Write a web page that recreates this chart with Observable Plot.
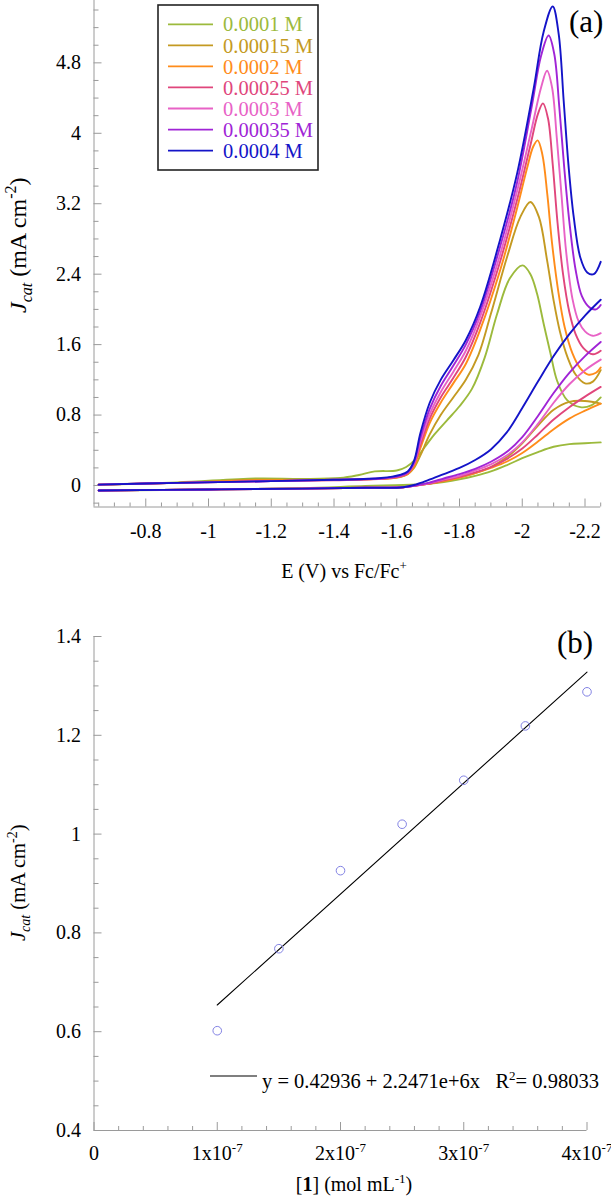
<!DOCTYPE html>
<html><head><meta charset="utf-8">
<script src="https://cdn.jsdelivr.net/npm/d3@7"></script>
<script src="https://cdn.jsdelivr.net/npm/@observablehq/plot@0.6"></script>
<style>
body{margin:0;background:#fff;}
#wrap{width:611px;}
svg{display:block;}
</style></head><body><div id="wrap"></div>
<script>
// ---------- Panel (a) data ----------
const seriesNames = ["0.0001 M","0.00015 M","0.0002 M","0.00025 M","0.0003 M","0.00035 M","0.0004 M"];
const seriesColors = ["#9cba3c","#c49a22","#ff8c1a","#e0467c","#e862c6","#a024d6","#1414c8"];

// forward (peak) branches [E (V), J (mA cm-2)]
const fwd1 = [[-0.65,0.01],[-0.9,0.035],[-1.15,0.08],[-1.3,0.075],[-1.42,0.085],[-1.48,0.12],[-1.53,0.16],[-1.6,0.17],[-1.63,0.21],[-1.66,0.3],[-1.69,0.44],[-1.72,0.58],[-1.76,0.74],[-1.8,0.9],[-1.84,1.1],[-1.88,1.45],[-1.92,1.95],[-1.96,2.35],[-2.001,2.5],[-2.026,2.4],[-2.047,2.18],[-2.068,1.84],[-2.09,1.5],[-2.111,1.19],[-2.143,0.97],[-2.185,0.89],[-2.22,0.91],[-2.25,1.0]];
const fwd15 = [[-0.65,0.01],[-0.9,0.03],[-1.15,0.065],[-1.3,0.065],[-1.5,0.07],[-1.6,0.09],[-1.635,0.13],[-1.655,0.2],[-1.675,0.34],[-1.705,0.58],[-1.74,0.8],[-1.78,1.0],[-1.82,1.2],[-1.86,1.48],[-1.9,1.95],[-1.952,2.6],[-1.994,3.05],[-2.026,3.22],[-2.053,3.05],[-2.079,2.56],[-2.1,2.1],[-2.12,1.75],[-2.145,1.45],[-2.17,1.26],[-2.2,1.16],[-2.225,1.18],[-2.25,1.31]];
const fwd2 = [[-0.65,0.01],[-0.9,0.03],[-1.15,0.06],[-1.3,0.06],[-1.5,0.07],[-1.6,0.09],[-1.635,0.13],[-1.655,0.22],[-1.675,0.42],[-1.705,0.71],[-1.74,0.94],[-1.78,1.16],[-1.82,1.38],[-1.866,1.77],[-1.93,2.45],[-1.98,3.1],[-2.015,3.6],[-2.035,3.85],[-2.049,3.92],[-2.064,3.76],[-2.08,3.3],[-2.095,2.75],[-2.115,2.2],[-2.135,1.8],[-2.16,1.5],[-2.185,1.33],[-2.21,1.26],[-2.235,1.28],[-2.25,1.34]];
const fwd25 = [[-0.65,0.01],[-0.9,0.03],[-1.2,0.05],[-1.4,0.06],[-1.55,0.075],[-1.61,0.1],[-1.635,0.14],[-1.655,0.24],[-1.675,0.46],[-1.705,0.76],[-1.74,1.0],[-1.78,1.22],[-1.82,1.46],[-1.866,1.85],[-1.93,2.55],[-1.984,3.25],[-2.025,3.85],[-2.05,4.22],[-2.066,4.34],[-2.082,4.17],[-2.097,3.65],[-2.112,3.0],[-2.13,2.4],[-2.15,1.97],[-2.17,1.72],[-2.195,1.56],[-2.225,1.49],[-2.25,1.53]];
const fwd3 = [[-0.65,0.01],[-0.9,0.03],[-1.2,0.05],[-1.4,0.065],[-1.55,0.08],[-1.61,0.11],[-1.635,0.15],[-1.655,0.25],[-1.675,0.5],[-1.705,0.81],[-1.74,1.06],[-1.78,1.29],[-1.82,1.53],[-1.866,1.92],[-1.93,2.63],[-1.984,3.35],[-2.03,4.05],[-2.06,4.52],[-2.079,4.71],[-2.095,4.52],[-2.11,3.95],[-2.125,3.3],[-2.14,2.65],[-2.16,2.12],[-2.18,1.86],[-2.2,1.75],[-2.225,1.7],[-2.25,1.73]];
const fwd35 = [[-0.65,0.01],[-0.9,0.03],[-1.2,0.05],[-1.4,0.065],[-1.55,0.08],[-1.61,0.11],[-1.635,0.15],[-1.655,0.26],[-1.675,0.54],[-1.705,0.87],[-1.74,1.13],[-1.78,1.36],[-1.82,1.6],[-1.866,1.98],[-1.93,2.72],[-1.984,3.45],[-2.03,4.3],[-2.06,4.88],[-2.084,5.11],[-2.102,4.9],[-2.118,4.3],[-2.134,3.6],[-2.15,3.0],[-2.17,2.45],[-2.19,2.15],[-2.215,2.02],[-2.235,2.0],[-2.25,2.05]];
const fwd4 = [[-0.65,0.01],[-0.9,0.03],[-1.2,0.05],[-1.4,0.065],[-1.55,0.085],[-1.61,0.12],[-1.635,0.16],[-1.655,0.28],[-1.675,0.59],[-1.705,0.94],[-1.74,1.2],[-1.78,1.42],[-1.82,1.65],[-1.866,2.03],[-1.93,2.8],[-1.984,3.55],[-2.036,4.5],[-2.068,5.15],[-2.097,5.44],[-2.116,5.13],[-2.132,4.37],[-2.148,3.61],[-2.164,3.05],[-2.185,2.59],[-2.207,2.42],[-2.228,2.4],[-2.25,2.54]];

// return branches
const revBase = [[-0.65,-0.057],[-1.0,-0.045],[-1.3,-0.035],[-1.5,-0.025],[-1.62,-0.02]];
const rev1 = [[-0.65,-0.057],[-1.0,-0.045],[-1.3,-0.03],[-1.5,-0.005],[-1.62,0.005],[-1.7,0.02],[-1.75,0.04],[-1.8,0.07],[-1.85,0.11],[-1.9,0.16],[-1.95,0.23],[-2.0,0.31],[-2.05,0.38],[-2.1,0.44],[-2.15,0.47],[-2.2,0.48],[-2.25,0.49]];
const rev15 = [[-1.66,0.0],[-1.7,0.02],[-1.75,0.05],[-1.8,0.09],[-1.85,0.14],[-1.9,0.21],[-1.95,0.32],[-2.0,0.48],[-2.05,0.68],[-2.1,0.86],[-2.15,0.95],[-2.2,0.96],[-2.25,0.93]];
const rev2 = [[-1.66,0.0],[-1.7,0.02],[-1.75,0.05],[-1.8,0.09],[-1.85,0.14],[-1.9,0.2],[-1.95,0.27],[-2.0,0.37],[-2.05,0.5],[-2.1,0.64],[-2.15,0.76],[-2.2,0.85],[-2.25,0.93]];
const rev25 = [[-1.66,0.0],[-1.7,0.02],[-1.75,0.06],[-1.8,0.1],[-1.85,0.15],[-1.9,0.21],[-1.95,0.3],[-2.0,0.42],[-2.05,0.58],[-2.1,0.75],[-2.15,0.89],[-2.2,1.01],[-2.25,1.12]];
const rev3 = [[-1.66,0.0],[-1.7,0.025],[-1.75,0.07],[-1.8,0.11],[-1.85,0.17],[-1.9,0.24],[-1.95,0.34],[-2.0,0.49],[-2.05,0.7],[-2.1,0.94],[-2.15,1.15],[-2.2,1.31],[-2.25,1.43]];
const rev35 = [[-1.66,0.0],[-1.7,0.03],[-1.75,0.08],[-1.8,0.13],[-1.85,0.19],[-1.9,0.27],[-1.95,0.38],[-2.0,0.55],[-2.05,0.79],[-2.1,1.05],[-2.15,1.28],[-2.2,1.47],[-2.25,1.63]];
const rev4 = [[-1.66,0.01],[-1.7,0.06],[-1.75,0.13],[-1.8,0.2],[-1.85,0.29],[-1.9,0.41],[-1.95,0.6],[-2.0,0.88],[-2.05,1.18],[-2.1,1.47],[-2.15,1.72],[-2.2,1.93],[-2.25,2.11]];

const forwards = [fwd1, fwd15, fwd2, fwd25, fwd3, fwd35, fwd4];
const returns = [rev1, revBase.concat(rev15), revBase.concat(rev2), revBase.concat(rev25), revBase.concat(rev3), revBase.concat(rev35), revBase.concat(rev4)];

// axis ticks panel (a)
const xMajorA = [-0.8,-1,-1.2,-1.4,-1.6,-1.8,-2,-2.2];
const xLabelsA = ["-0.8","-1","-1.2","-1.4","-1.6","-1.8","-2","-2.2"];
const yMajorA = [0,0.8,1.6,2.4,3.2,4,4.8];
const yLabelsA = ["0","0.8","1.6","2.4","3.2","4","4.8"];

// ---------- Panel (b) data ----------
const conc = [1e-7,1.5e-7,2e-7,2.5e-7,3e-7,3.5e-7,4e-7];
const jcat = [0.602,0.768,0.926,1.020,1.109,1.219,1.288];
const fitX = [1e-7,4e-7];
const fitY = [0.654,1.328];
const xMajorB = [0,1e-7,2e-7,3e-7,4e-7];
const xLabelsB = ["0","1x10","2x10","3x10","4x10"];
const xExpB = ["","-7","-7","-7","-7"];
const yMajorB = [0.4,0.6,0.8,1,1.2,1.4];
const yLabelsB = ["0.4","0.6","0.8","1","1.2","1.4"];

// ---------- build ----------
const axisColor = "#9a9a9a";
const FONT = "Liberation Serif, Times New Roman, serif";

const rowsA = [];
seriesNames.forEach((n, i) => {
  forwards[i].forEach(([E, J]) => rowsA.push({series: n, key: n + "|f", E, J}));
  returns[i].forEach(([E, J]) => rowsA.push({series: n, key: n + "|r", E, J}));
});

function minorTicks(lo, hi, step, majors) {
  const out = [];
  const n = Math.round((hi - lo) / step);
  for (let k = 0; k <= n; k++) {
    const v = +(lo + k * step).toFixed(12);
    if (!majors.some(m => Math.abs(m - v) < Math.abs(step) / 10)) out.push(v);
  }
  return out;
}

function axisMarks(xMaj, xMin, yMaj, yMin, xDom, yDom, plotW, plotH) {
  return [
    Plot.ruleX([xDom[0]], {stroke: axisColor, strokeWidth: 1}),
    Plot.ruleY([yDom[0]], {stroke: axisColor, strokeWidth: 1}),
    Plot.tickX(xMaj, {x: d => d, stroke: axisColor, insetTop: plotH - 8}),
    Plot.tickX(xMin, {x: d => d, stroke: axisColor, insetTop: plotH - 4}),
    Plot.tickY(yMaj, {y: d => d, stroke: axisColor, insetRight: plotW - 8}),
    Plot.tickY(yMin, {y: d => d, stroke: axisColor, insetRight: plotW - 5})
  ];
}

function txt(sel, x, y, size, anchor) {
  return sel.append("text").attr("x", x).attr("y", y).attr("font-size", size)
    .attr("text-anchor", anchor || "start").attr("fill", "black")
    .style("white-space", "pre");
}

function forceFont(sel) {
  sel.style("font-family", FONT);
  sel.selectAll("text, tspan").style("font-family", FONT);
}

// Panel (a)
const WA = 611, HA = 600, mlA = 93.5, mrA = 10.8, mtA = 0, mbA = 93.5;
const xDomA = [-0.635, -2.25], yDomA = [-0.244, 5.508];
const plotA = Plot.plot({
  width: WA, height: HA, marginLeft: mlA, marginRight: mrA, marginTop: mtA, marginBottom: mbA,
  x: {domain: xDomA, axis: null},
  y: {domain: yDomA, axis: null},
  color: {domain: seriesNames, range: seriesColors},
  style: {background: "white", overflow: "visible"},
  marks: [
    ...axisMarks(xMajorA, minorTicks(-0.65, -2.25, -0.05, xMajorA), yMajorA, minorTicks(-0.2, 5.4, 0.2, yMajorA), xDomA, yDomA, WA - mlA - mrA, HA - mtA - mbA),
    Plot.text(xMajorA, {x: d => d, text: (d, i) => xLabelsA[i], frameAnchor: "bottom", dy: 25, lineAnchor: "middle", fontSize: 20, fill: "black"}),
    Plot.text(yMajorA, {y: d => d, text: (d, i) => yLabelsA[i], frameAnchor: "left", dx: -13, textAnchor: "end", lineAnchor: "middle", fontSize: 20, fill: "black"}),
    Plot.line(rowsA, {x: "E", y: "J", z: "key", stroke: "series", strokeWidth: 1.9, curve: "catmull-rom"})
  ]
});

const sa = d3.select(plotA);
// legend
const lg = sa.append("g");
lg.append("rect").attr("x", 158).attr("y", 5).attr("width", 160).attr("height", 165)
  .attr("fill", "white").attr("stroke", "#222").attr("stroke-width", 1.6);
seriesNames.forEach((n, i) => {
  const y = 24.3 + i * 21.05;
  lg.append("line").attr("x1", 168).attr("x2", 213).attr("y1", y).attr("y2", y)
    .attr("stroke", seriesColors[i]).attr("stroke-width", 1.8);
  txt(lg, 223, y, 20.5).attr("dy", "0.35em").attr("fill", seriesColors[i]).text(n);
});
// panel label
txt(sa, 569, 32, 31).text("(a)");
// x title
const xtA = txt(sa, 344, 578, 20, "middle");
xtA.append("tspan").text("E (V) vs Fc/Fc");
xtA.append("tspan").attr("dy", -8).attr("font-size", 13).text("+");
// y title
function yTitle(sel, x, y, size) {
  const sub = Math.round(size * 0.68);
  const t = sel.append("text").attr("transform", `translate(${x},${y}) rotate(-90)`)
    .attr("text-anchor", "start")
    .attr("font-size", size).attr("fill", "black").style("white-space", "pre");
  t.append("tspan").attr("font-style", "italic").text("J");
  t.append("tspan").attr("font-style", "italic").attr("font-size", sub).attr("dy", size * 0.25).text("cat");
  t.append("tspan").attr("dy", -size * 0.25).text(" (mA cm");
  t.append("tspan").attr("font-size", sub).attr("dy", -size * 0.4).text("-2");
  t.append("tspan").attr("dy", size * 0.4).text(")");
}
yTitle(sa, 26, 313, 24);
forceFont(sa);

// Panel (b)
const WB = 611, HB = 597, mlB = 93.5, mrB = 24.5, mtB = 36, mbB = 67;
const xDomB = [0, 4e-7], yDomB = [0.4, 1.4];
const pts = conc.map((c, i) => ({c, j: jcat[i]}));
const fit = fitX.map((c, i) => ({c, j: fitY[i]}));
const plotB = Plot.plot({
  width: WB, height: HB, marginLeft: mlB, marginRight: mrB, marginTop: mtB, marginBottom: mbB,
  x: {domain: xDomB, axis: null},
  y: {domain: yDomB, axis: null},
  style: {background: "white", overflow: "visible"},
  marks: [
    ...axisMarks(xMajorB, minorTicks(0, 4e-7, 2e-8, xMajorB), yMajorB, minorTicks(0.4, 1.4, 0.05, yMajorB), xDomB, yDomB, WB - mlB - mrB, HB - mtB - mbB),
    Plot.text(xMajorB, {x: d => d, text: (d, i) => xLabelsB[i], frameAnchor: "bottom", dy: 23, lineAnchor: "middle", fontSize: 20, fill: "black"}),
    Plot.text(yMajorB, {y: d => d, text: (d, i) => yLabelsB[i], frameAnchor: "left", dx: -13, textAnchor: "end", lineAnchor: "middle", fontSize: 20, fill: "black"}),
    Plot.line(fit, {x: "c", y: "j", stroke: "black", strokeWidth: 1.1}),
    Plot.dot(pts, {x: "c", y: "j", r: 4.3, stroke: "#8282e4", fill: "none", strokeWidth: 1})
  ]
});
const sb = d3.select(plotB);
// exponent superscripts on x tick labels
sb.selectAll("text").each(function () {
  const k = xLabelsB.indexOf(this.textContent);
  if (k > 0 && xExpB[k]) {
    d3.select(this).append("tspan").attr("dy", -8).attr("font-size", 13).text(xExpB[k]);
  }
});
txt(sb, 557, 53, 31).text("(b)");
// fit legend
sb.append("line").attr("x1", 210).attr("x2", 257).attr("y1", 476).attr("y2", 476).attr("stroke", "black").attr("stroke-width", 1.1);
const eq = txt(sb, 262, 488, 20.5);
eq.append("tspan").text("y = 0.42936 + 2.2471e+6x   R");
eq.append("tspan").attr("dy", -8).attr("font-size", 13).text("2");
eq.append("tspan").attr("dy", 8).text("= 0.98033");
// x title
const xtB = txt(sb, 354, 591, 20, "middle");
xtB.append("tspan").text("[");
xtB.append("tspan").attr("font-weight", "bold").text("1");
xtB.append("tspan").text("] (mol mL");
xtB.append("tspan").attr("dy", -8).attr("font-size", 13).text("-1");
xtB.append("tspan").attr("dy", 8).text(")");
yTitle(sb, 25, 341, 20.5);
forceFont(sb);

const wrap = document.getElementById("wrap");
wrap.appendChild(plotA);
wrap.appendChild(plotB);
</script>
</body></html>
